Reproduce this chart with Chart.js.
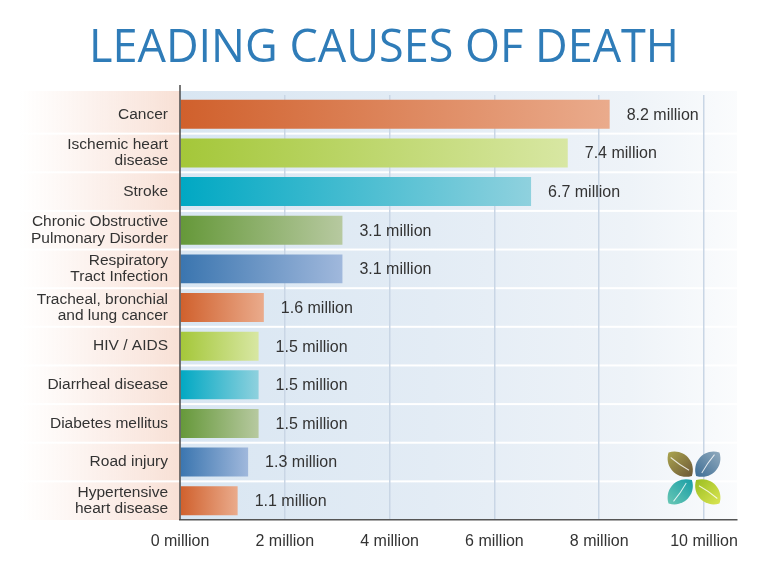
<!DOCTYPE html>
<html>
<head>
<meta charset="utf-8">
<script src="https://cdn.jsdelivr.net/npm/chart.js@4.4.1/dist/chart.umd.min.js"></script>
<style>
html,body{margin:0;padding:0;background:#ffffff;}
#wrap{width:768px;height:574px;}
</style>
</head>
<body>
<div id="wrap"><canvas id="c" width="768" height="574"></canvas></div>
<script>
// ---- data ----
const chartTitle = "LEADING CAUSES OF DEATH";
const categories = [
  ["Cancer"],
  ["Ischemic heart", "disease"],
  ["Stroke"],
  ["Chronic Obstructive", "Pulmonary Disorder"],
  ["Respiratory", "Tract Infection"],
  ["Tracheal, bronchial", "and lung cancer"],
  ["HIV / AIDS"],
  ["Diarrheal disease"],
  ["Diabetes mellitus"],
  ["Road injury"],
  ["Hypertensive", "heart disease"]
];
const deathsMillions = [8.2, 7.4, 6.7, 3.1, 3.1, 1.6, 1.5, 1.5, 1.5, 1.3, 1.1];
const valueLabels = ["8.2 million", "7.4 million", "6.7 million", "3.1 million", "3.1 million",
  "1.6 million", "1.5 million", "1.5 million", "1.5 million", "1.3 million", "1.1 million"];
const xTickValues = [0, 2, 4, 6, 8, 10];
const tickUnit = " million";

// ---- styles ----
const barPalette = [
  ["#d0602c", "#eaab8c"],  // orange
  ["#a4c739", "#d8e7a3"],  // lime
  ["#00a8c3", "#8fd1de"],  // cyan
  ["#659839", "#b7c9a0"],  // green
  ["#3a75af", "#a0b8dc"]   // blue
];
const labelFont = "Liberation Sans, Arial, sans-serif";
const textColor = "#333333";

function barFill(context) {
  const pal = barPalette[context.dataIndex % barPalette.length];
  const chart = context.chart;
  if (!chart.chartArea || context.type !== 'data') return pal[0];
  const xs = chart.scales.x;
  const x0 = xs.getPixelForValue(0);
  const x1 = xs.getPixelForValue(context.raw);
  if (!isFinite(x0) || !isFinite(x1) || x1 <= x0) return pal[0];
  const g = chart.ctx.createLinearGradient(x0, 0, x1, 0);
  g.addColorStop(0, pal[0]);
  g.addColorStop(1, pal[1]);
  return g;
}

const bandsPlugin = {
  id: 'bands',
  beforeDraw(chart) {
    const {ctx, chartArea: a} = chart;
    const n = categories.length;
    const h = (a.bottom - a.top) / n;
    ctx.save();
    const blue = ctx.createLinearGradient(a.left, 0, a.right + 5, 0);
    blue.addColorStop(0, '#d9e6f2');
    blue.addColorStop(0.45, '#e3ecf5');
    blue.addColorStop(0.8, '#eef3f8');
    blue.addColorStop(1, '#fbfcfd');
    const peach = ctx.createLinearGradient(20, 0, a.left, 0);
    peach.addColorStop(0, 'rgba(250,232,224,0)');
    peach.addColorStop(0.5, 'rgba(249,228,219,0.55)');
    peach.addColorStop(1, '#f8e0d5');
    for (let i = 0; i < n; i++) {
      const top = i === 0 ? a.top - 4 : a.top + i * h + 1;
      const bottom = i === n - 1 ? a.bottom : a.top + (i + 1) * h - 1;
      ctx.fillStyle = blue;
      ctx.fillRect(a.left, top, a.right - a.left, bottom - top);
      ctx.fillStyle = peach;
      ctx.fillRect(0, top, a.left, bottom - top);
    }
    ctx.restore();
  },
  afterDatasetsDraw(chart) {
    const {ctx, chartArea: a} = chart;
    const meta = chart.getDatasetMeta(0);
    ctx.save();
    ctx.font = "16px " + labelFont;
    ctx.fillStyle = textColor;
    ctx.textAlign = 'left';
    ctx.textBaseline = 'middle';
    meta.data.forEach((bar, i) => {
      ctx.fillText(valueLabels[i], bar.x + 17, bar.y + 1);
    });
    // left axis line (extends a little above the plot)
    ctx.strokeStyle = '#4a4a4a';
    ctx.lineWidth = 1.5;
    ctx.beginPath();
    ctx.moveTo(a.left, a.top - 10);
    ctx.lineTo(a.left, a.bottom);
    ctx.stroke();
    ctx.restore();
  },
  afterDraw(chart) {
    // decorative leaf logo
    const ctx = chart.ctx;
    const cx = 694, cy = 478;
    const leaves = [
      {ang: -135, c0: '#6e5a36', c1: '#a9a24e'},
      {ang: -45,  c0: '#3f6f95', c1: '#8fa9bd'},
      {ang: 135,  c0: '#1c9fa6', c1: '#66c6b4'},
      {ang: 45,   c0: '#9dbf22', c1: '#d8e451'}
    ];
    ctx.save();
    leaves.forEach(l => {
      ctx.save();
      ctx.translate(cx, cy);
      ctx.rotate(l.ang * Math.PI / 180);
      const s = 3, e = 36, w = 10.5;
      const g = ctx.createLinearGradient(s, 0, e, 0);
      g.addColorStop(0, l.c0);
      g.addColorStop(1, l.c1);
      ctx.fillStyle = g;
      ctx.beginPath();
      ctx.moveTo(s, 0);
      ctx.bezierCurveTo(s + 7, -w * 1.3, e - 7, -w * 1.3, e, 0);
      ctx.bezierCurveTo(e - 7, w * 1.3, s + 7, w * 1.3, s, 0);
      ctx.closePath();
      ctx.fill();
      ctx.strokeStyle = 'rgba(255,255,255,0.8)';
      ctx.lineWidth = 1;
      ctx.beginPath();
      ctx.moveTo(s + 6, 2);
      ctx.quadraticCurveTo((s + e) / 2, -1, e - 5, -2);
      ctx.stroke();
      ctx.restore();
    });
    ctx.restore();
  }
};

new Chart(document.getElementById('c'), {
  type: 'bar',
  data: {
    labels: categories,
    datasets: [{
      data: deathsMillions,
      backgroundColor: barFill,
      borderWidth: 0,
      barPercentage: 0.75,
      categoryPercentage: 1.0
    }]
  },
  options: {
    indexAxis: 'y',
    responsive: false,
    animation: false,
    devicePixelRatio: 1,
    layout: {padding: 0},
    plugins: {
      legend: {display: false},
      tooltip: {enabled: false},
      title: {
        display: true,
        text: chartTitle,
        color: '#2f7cb8',
        font: {family: 'Open Sans, sans-serif', size: 45, weight: 'normal', lineHeight: 1.2},
        padding: {top: 22, bottom: 19}
      }
    },
    scales: {
      x: {
        type: 'linear',
        min: 0,
        max: 10.63,
        afterBuildTicks: s => { s.ticks = xTickValues.map(v => ({value: v})); },
        afterFit: s => { s.height = 54; s.paddingRight = 31; s.paddingLeft = 0; },
        ticks: {
          callback: v => v + tickUnit,
          color: textColor,
          font: {family: labelFont, size: 16},
          padding: 12,
          maxRotation: 0,
          autoSkip: false
        },
        grid: {
          color: c => (c.tick && c.tick.value === 0) ? 'rgba(0,0,0,0)' : '#c9d6e5',
          lineWidth: 1.5,
          drawTicks: false
        },
        border: {color: '#555555', width: 1.5}
      },
      y: {
        type: 'category',
        afterFit: s => { s.width = 180; s.paddingTop = 0; s.paddingBottom = 0; },
        ticks: {
          color: textColor,
          font: {family: labelFont, size: 15.5, lineHeight: 1.05},
          padding: 12,
          autoSkip: false
        },
        grid: {display: false, drawTicks: false},
        border: {display: false}
      }
    }
  },
  plugins: [bandsPlugin]
});
</script>
</body>
</html>
